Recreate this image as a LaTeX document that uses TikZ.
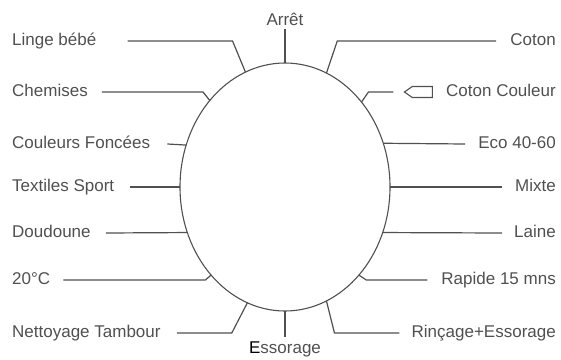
\documentclass[tikz,border=0pt]{standalone}
\usepackage{fontspec}
\setmainfont{Liberation Sans}
\usetikzlibrary{positioning,shapes.geometric,shapes.symbols}
\definecolor{ink}{HTML}{505050}

\begin{document}
\begin{tikzpicture}[
  x=1pt, y=-1pt,
  lbl/.style={inner sep=0, text=ink, font=\fontsize{17}{19}\selectfont, text height=12pt, text depth=3.5pt},
  left lbl/.style={lbl, anchor=west},
  right lbl/.style={lbl, anchor=east},
  knob/.style={ellipse, draw=ink, line width=1.1pt, minimum width=210pt, minimum height=248pt, inner sep=0, outer sep=0},
  tag/.style={signal, signal to=west, signal pointer angle=70, draw=ink, line width=1.1pt, minimum width=28pt, minimum height=11pt, inner sep=0},
  wire/.style={draw=ink, line width=1.2pt}
]
\useasboundingbox (0,0) rectangle (561,359);
\node[knob] (dial) at (285,187) {};

\node[lbl, anchor=base] (arret) at (285,25) {Arrêt};
\node[lbl, anchor=base] (ess) at (285,353) {{\color{black}E}ssorage};

\node[left lbl] (linge) at (12,41) {Linge bébé};
\node[left lbl] (chem) at (12,92) {Chemises};
\node[left lbl] (fonc) at (12,144) {Couleurs Foncées};
\node[left lbl] (sport) at (12,187) {Textiles Sport};
\node[left lbl] (doud) at (12,233) {Doudoune};
\node[left lbl] (vingt) at (12,280) {20°C};
\node[left lbl] (tamb) at (12,333) {Nettoyage Tambour};

\node[right lbl] (coton) at (556,41) {Coton};
\node[right lbl] (cotcoul) at (556,92) {Coton Couleur};
\node[right lbl] (eco) at (556,144) {Eco 40-60};
\node[right lbl] (mixte) at (556,187) {Mixte};
\node[right lbl] (laine) at (556,233) {Laine};
\node[right lbl] (rapide) at (556,280) {Rapide 15 mns};
\node[right lbl] (rinc) at (556,333) {Rinçage+Essorage};
\node[tag, left=13pt of cotcoul] (marker) {};

\draw[wire] (arret.south) -- (dial.north);
\draw[wire] (dial.south) -- ([yshift=4pt]ess.north);
\draw[wire] ([xshift=31pt]linge.east) -- ++(105,0) -- (dial.109);
\draw[wire] ([xshift=14pt]chem.east) -- ++(101,0) -- (dial.131);
\draw[wire] ([xshift=17pt]fonc.east) -- (dial.157);
\draw[wire] ([xshift=16pt]sport.east) -- (dial.west);
\draw[wire] ([xshift=15pt]doud.east) -- (dial.205);
\draw[wire] ([xshift=13pt]vingt.east) -- ++(142,0) -- (dial.230);
\draw[wire] ([xshift=16pt]tamb.east) -- ++(55,0) -- (dial.252);
\draw[wire] ([xshift=-14pt]coton.west) -- ++(-159,0) -- (dial.70);
\draw[wire] ([xshift=-10pt]marker.west) -- ++(-25,0) -- (dial.48);
\draw[wire] ([xshift=-13pt]eco.west) -- (dial.24);
\draw[wire] ([xshift=-13pt]mixte.west) -- (dial.east);
\draw[wire] ([xshift=-12pt]laine.west) -- (dial.335);
\draw[wire] ([xshift=-14pt]rapide.west) -- ++(-61,0) -- (dial.310);
\draw[wire] ([xshift=-12pt]rinc.west) -- ++(-65,0) -- (dial.290);
\end{tikzpicture}
\end{document}
